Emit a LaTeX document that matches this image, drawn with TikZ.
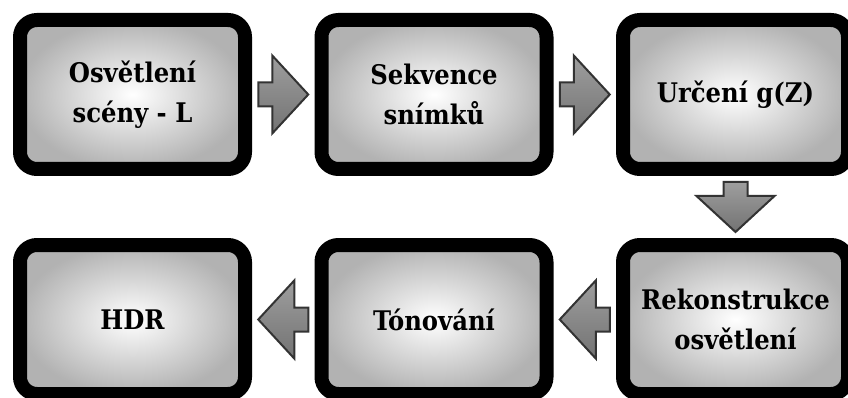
\documentclass[tikz,border=0pt]{standalone}
\usepackage{fontspec}
\setmainfont{DejaVu Serif Condensed}
\usetikzlibrary{calc}
\tikzset{
  stepbox/.style={draw=black, line width=14pt, rounded corners=17pt,
    inner color=white, outer color=black!30,
    minimum width=225pt, minimum height=149pt, align=center,
    font=\fontsize{27}{39.5}\selectfont\bfseries, text=black},
  arrowstyle/.style={draw=black!80, line width=2pt, line join=miter,
    top color=black!38, bottom color=black!55},
  blockarrow/.pic={\draw[arrowstyle] (-25,-12) -- (-11,-12) -- (-11,-39) -- (25,0)
     -- (-11,39) -- (-11,12) -- (-25,12) -- cycle;}
}
\begin{document}
\begin{tikzpicture}[x=1pt,y=-1pt]
\useasboundingbox (0,0) rectangle (848,398);
\clip (0,0) rectangle (848,398);
\node[stepbox] (b1) at (132.5,94.5) {Osvětlení\\scény - L};
\node[stepbox] (b2) at (434,94.5) {Sekvence\\snímků};
\node[stepbox] (b3) at (735.5,94.5) {Určení g(Z)};
\node[stepbox] (b6) at (735.5,319.5) {Rekonstrukce\\osvětlení};
\node[stepbox] (b5) at (434,319.5) {Tónování};
\node[stepbox] (b4) at (132.5,319.5) {HDR};
\pic at ($(b1.east)!0.5!(b2.west)$) {blockarrow};
\pic at ($(b2.east)!0.5!(b3.west)$) {blockarrow};
\pic[rotate=-90] at ($(b3.south)!0.5!(b6.north)$) {blockarrow};
\pic[rotate=180] at ($(b6.west)!0.5!(b5.east)$) {blockarrow};
\pic[rotate=180] at ($(b5.west)!0.5!(b4.east)$) {blockarrow};
\end{tikzpicture}
\end{document}
